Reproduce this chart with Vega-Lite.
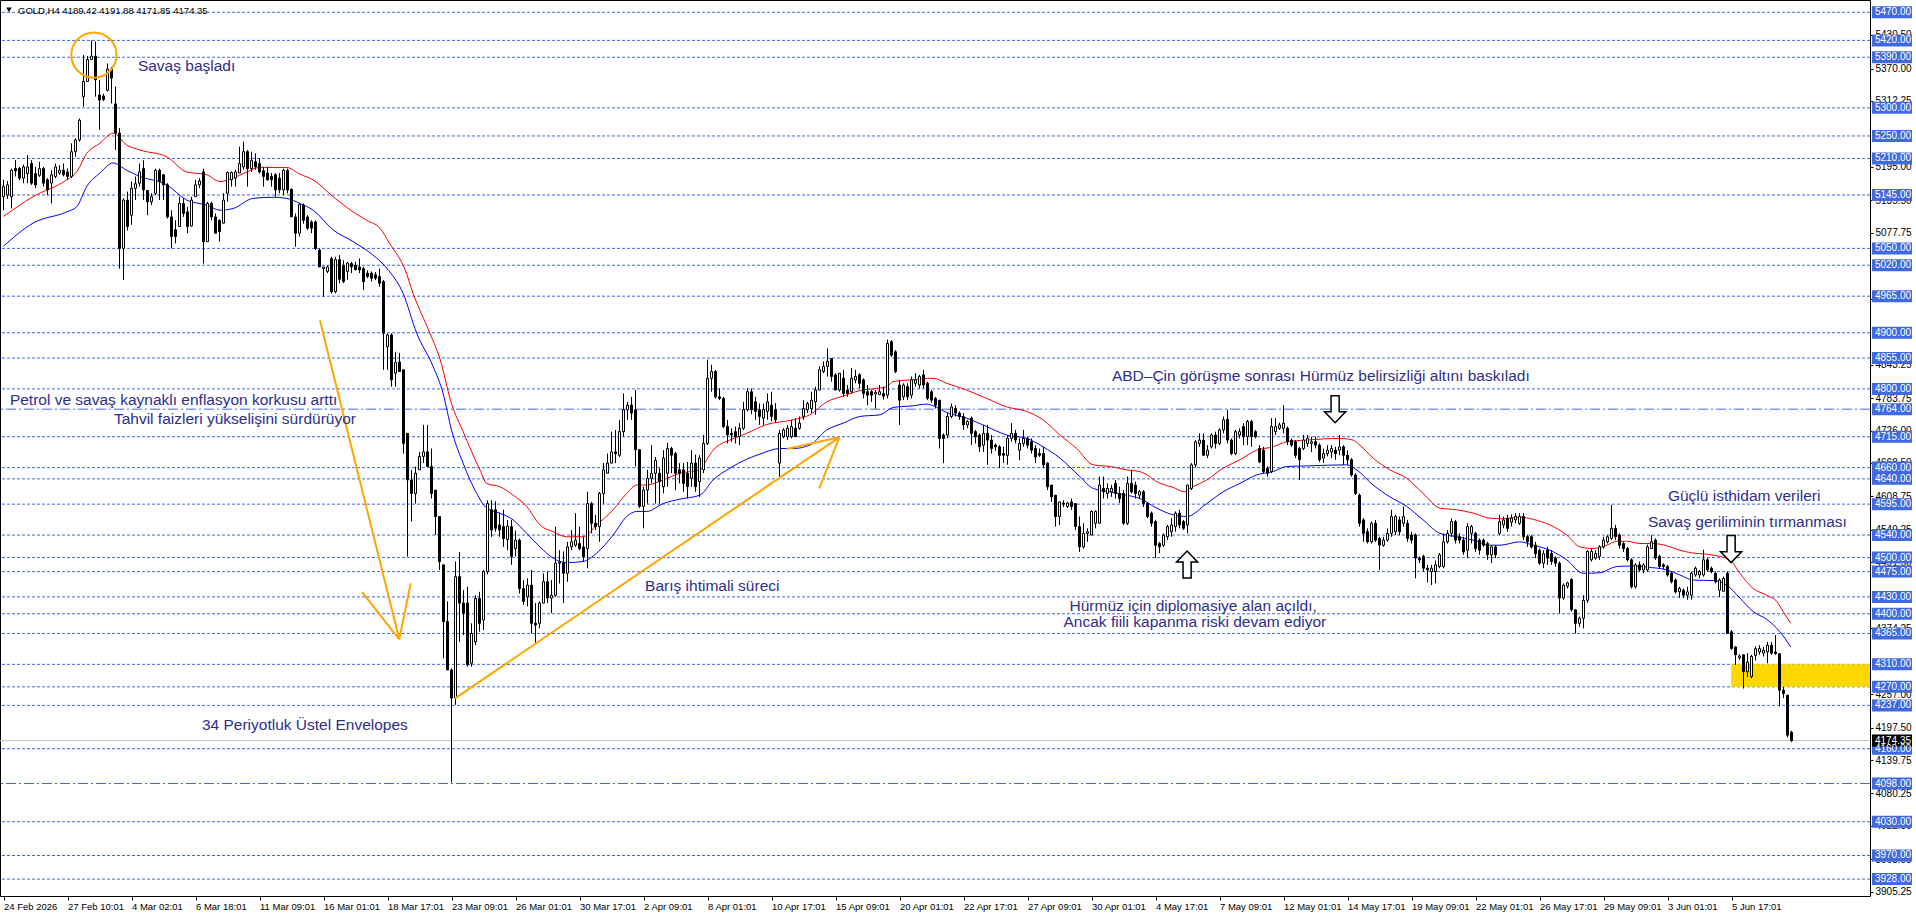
{
"$schema": "https://vega.github.io/schema/vega-lite/v6.json",
"width": 1870, "height": 896,
"autosize": {"type": "none"},
"padding": {"left": 0, "top": 0, "right": 46, "bottom": 21},
"background": "white",
"resolve": {"axis": {"x": "independent", "y": "independent"}},
"config": {
  "view": {"stroke": "black", "strokeWidth": 1},
  "scale": {"continuousPadding": 0},
  "text": {"font": "Liberation Sans"},
  "axis": {"labelFont": "Liberation Sans", "grid": false}
},
"layer": [
  {
    "data": {"values": [
      {"p":5470,"k":"d"},{"p":5420,"k":"d"},{"p":5390,"k":"d"},{"p":5300,"k":"d"},{"p":5250,"k":"d"},{"p":5210,"k":"d"},{"p":5145,"k":"d"},{"p":5050,"k":"d"},{"p":5020,"k":"d"},{"p":4965,"k":"d"},{"p":4900,"k":"d"},{"p":4855,"k":"d"},{"p":4800,"k":"d"},{"p":4764,"k":"dd"},{"p":4715,"k":"d"},{"p":4660,"k":"d"},{"p":4640,"k":"d"},{"p":4595,"k":"d"},{"p":4540,"k":"d"},{"p":4500,"k":"d"},{"p":4475,"k":"d"},{"p":4430,"k":"d"},{"p":4400,"k":"d"},{"p":4365,"k":"d"},{"p":4310,"k":"d"},{"p":4270,"k":"d"},{"p":4237,"k":"d"},{"p":4160,"k":"d"},{"p":4098,"k":"dd"},{"p":4030,"k":"d"},{"p":3970,"k":"d"},{"p":3928,"k":"d"}
    ]},
    "resolve": {"axis": {"x": "independent", "y": "independent"}},
    "layer": [
      {
        "transform": [{"filter": "datum.k == 'd'"}],
        "mark": {"type": "rule", "color": "#4169E1", "strokeWidth": 1, "strokeDash": [3, 2]},
        "encoding": {"y": {"field": "p", "type": "quantitative", "scale": {"domain": [3897.9, 5491.9], "nice": false, "zero": false, "padding": 0}, "axis": null}}
      },
      {
        "transform": [{"filter": "datum.k == 'dd'"}],
        "mark": {"type": "rule", "color": "#4169E1", "strokeWidth": 1, "strokeDash": [10, 3, 2, 3]},
        "encoding": {"y": {"field": "p", "type": "quantitative", "scale": {"domain": [3897.9, 5491.9], "nice": false, "zero": false, "padding": 0}, "axis": null}}
      }
    ]
  },
  {
    "data": {"values": [{"i1": 431.9, "i2": 466.625, "p1": 4310, "p2": 4270}]},
    "mark": {"type": "rect", "color": "#FFD700"},
    "encoding": {
      "x": {"field": "i1", "type": "quantitative", "scale": {"domain": [-0.875, 466.625], "nice": false, "zero": false, "padding": 0}, "axis": null},
      "x2": {"field": "i2"},
      "y": {"field": "p1", "type": "quantitative", "scale": {"domain": [3897.9, 5491.9], "nice": false, "zero": false, "padding": 0}, "axis": null},
      "y2": {"field": "p2"}
    }
  },
  {
    "data": {"values": [{"p": 4174.35}]},
    "mark": {"type": "rule", "color": "#C0C0C0", "strokeWidth": 1},
    "encoding": {"y": {"field": "p", "type": "quantitative", "scale": {"domain": [3897.9, 5491.9], "nice": false, "zero": false, "padding": 0}, "axis": null}}
  },
  {
    "data": {"values": "s,i,p\nu,0,5107\nu,7.4,5142\nu,15.8,5172\nu,18.3,5186\nu,20.8,5219\nu,24.1,5237\nu,27.4,5255\nu,30.8,5234\nu,34.1,5225\nu,40.8,5213\nu,45.8,5186\nu,50.8,5181\nu,54.1,5169\nu,57.4,5175\nu,60.8,5186\nu,64.1,5194\nu,70.8,5194\nu,74.1,5182\nu,77.4,5172\nu,82.4,5142\nu,87.4,5115\nu,90.8,5100\nu,94.1,5086\nu,96.6,5058\nu,100.4,5012\nu,102.4,4970\nu,106.6,4899\nu,109.1,4854\nu,112,4774\nu,114.9,4724\nu,119.1,4656\nu,120.8,4632\nu,124.1,4626\nu,127.4,4611\nu,130.8,4591\nu,134.1,4558\nu,137.4,4546\nu,140.8,4537\nu,144.9,4537\nu,148.3,4558\nu,152.4,4585\nu,155.8,4614\nu,158.3,4629\nu,160.8,4629\nu,164.9,4638\nu,169.1,4650\nu,174.1,4656\nu,175.8,4674\nu,177.4,4691\nu,181.6,4709\nu,185.8,4721\nu,190.5,4736\nu,197.4,4745\nu,201.6,4754\nu,205.8,4777\nu,209.8,4787\nu,214.1,4797\nu,218.3,4801\nu,220.8,4804\nu,222.4,4813\nu,226.6,4816\nu,232.4,4819\nu,235.8,4810\nu,240.8,4798\nu,245.8,4783\nu,250.8,4768\nu,255.8,4760\nu,259.9,4745\nu,264.1,4718\nu,268.3,4694\nu,272.4,4665\nu,276.6,4662\nu,280.8,4656\nu,284.5,4652\nu,289.1,4632\nu,292.4,4625\nu,295.3,4617\nu,296.6,4623\nu,300.8,4638\nu,304.9,4659\nu,309.1,4674\nu,313.3,4691\nu,317.4,4697\nu,320.8,4706\nu,325.8,4709\nu,334.1,4712\nu,337.4,4709\nu,339.1,4700\nu,342.4,4677\nu,346.6,4656\nu,350.8,4641\nu,354.9,4614\nu,359.1,4588\nu,363.3,4585\nu,367.4,4579\nu,371.6,4570\nu,375,4569\nu,379.1,4572\nu,382.4,4568\nu,386.6,4558\nu,390.8,4540\nu,394.1,4519\nu,397.4,4516\nu,400.8,4522\nu,403.3,4529\nu,405.8,4529\nu,409.1,4525\nu,412.4,4525\nu,415.8,4521\nu,419.1,4513\nu,422.4,4508\nu,425.8,4506\nu,429.1,4502\nu,431.6,4496\nu,434.1,4472\nu,437.4,4445\nu,440.8,4433\nu,443.3,4422\nu,444.9,4404\nu,446.8,4383\nl,0,5054\nl,7.4,5095\nl,15.8,5115\nl,18.3,5124\nl,20.8,5160\nl,24.1,5184\nl,27.4,5202\nl,30.8,5189\nl,34.1,5178\nl,40.8,5163\nl,45.8,5136\nl,50.8,5127\nl,54.1,5118\nl,57.4,5121\nl,62.4,5139\nl,67.4,5141\nl,70.8,5139\nl,74.1,5130\nl,77.4,5118\nl,82.4,5083\nl,87.4,5062\nl,92.4,5038\nl,96.4,5010\nl,99.9,4970\nl,103.3,4899\nl,107.4,4840\nl,109.9,4792\nl,112,4727\nl,114.9,4668\nl,118.3,4614\nl,120.8,4588\nl,124.1,4579\nl,127.4,4567\nl,130.8,4543\nl,134.1,4519\nl,137.4,4499\nl,140.8,4491\nl,144.9,4493\nl,148.3,4508\nl,152.4,4540\nl,155.8,4573\nl,158.3,4582\nl,160.8,4582\nl,164.9,4596\nl,169.1,4604\nl,174.1,4611\nl,177.4,4638\nl,181.6,4659\nl,185.8,4675\nl,189.1,4684\nl,194.1,4694\nl,197.4,4694\nl,201.6,4700\nl,205.8,4727\nl,209.9,4739\nl,214.1,4751\nl,219.1,4754\nl,222.4,4767\nl,227.4,4770\nl,230.8,4773\nl,232.4,4770\nl,235.8,4758\nl,240.8,4748\nl,245.8,4733\nl,250.8,4718\nl,255.8,4712\nl,259.9,4697\nl,264.1,4677\nl,269.1,4644\nl,272.4,4623\nl,276.6,4617\nl,280.8,4611\nl,284.1,4605\nl,288.3,4588\nl,292.4,4576\nl,295.8,4573\nl,300.8,4596\nl,304.9,4617\nl,309.1,4632\nl,313.3,4647\nl,317.4,4653\nl,320.8,4662\nl,325.8,4663\nl,335.8,4665\nl,338.3,4656\nl,342.4,4629\nl,346.6,4608\nl,350.8,4591\nl,354.9,4567\nl,359.1,4543\nl,363.3,4537\nl,367.4,4531\nl,371.6,4522\nl,374.1,4522\nl,379.1,4528\nl,382.4,4522\nl,386.6,4513\nl,390.8,4496\nl,394.9,4472\nl,399.1,4473\nl,403.3,4484\nl,407.4,4485\nl,410.8,4483\nl,415.8,4478\nl,419.1,4469\nl,422.4,4460\nl,427.4,4459\nl,430.8,4451\nl,434.1,4428\nl,437.4,4404\nl,440.8,4390\nl,444.1,4368\nl,446.8,4341", "format": {"type": "csv", "parse": {"i": "number", "p": "number"}}},
    "mark": {"type": "line", "strokeWidth": 1, "interpolate": "monotone"},
    "encoding": {
      "x": {"field": "i", "type": "quantitative", "scale": {"domain": [-0.875, 466.625], "nice": false, "zero": false, "padding": 0}, "axis": null},
      "y": {"field": "p", "type": "quantitative", "scale": {"domain": [3897.9, 5491.9], "nice": false, "zero": false, "padding": 0}, "axis": null},
      "color": {"field": "s", "type": "nominal", "scale": {"domain": ["u", "l"], "range": ["#FF0000", "#0000FF"]}, "legend": null}
    }
  },
  {
    "data": {"values": "i,o,h,l,c\n0,5142,5172,5118,5160\n1,5145,5170,5138,5163\n2,5142,5192,5121,5189\n3,5192,5207,5178,5188\n4,5192,5195,5171,5175\n5,5175,5199,5166,5195\n6,5183,5216,5166,5195\n7,5201,5207,5163,5166\n8,5183,5195,5157,5163\n9,5180,5204,5177,5192\n10,5192,5195,5160,5166\n11,5172,5175,5145,5154\n12,5166,5189,5130,5181\n13,5178,5201,5175,5195\n14,5184,5198,5181,5189\n15,5189,5201,5178,5181\n16,5186,5192,5172,5178\n17,5178,5237,5175,5222\n18,5222,5246,5213,5243\n19,5243,5281,5240,5278\n20,5320,5394,5302,5347\n21,5347,5392,5346,5386\n22,5386,5420,5385,5392\n23,5392,5418,5320,5350\n24,5323,5350,5261,5314\n25,5321,5325,5312,5315\n26,5331,5379,5329,5369\n27,5369,5373,5308,5353\n28,5307,5338,5225,5255\n29,5255,5264,5014,5050\n30,5050,5139,4994,5136\n31,5136,5151,5082,5089\n32,5109,5169,5092,5157\n33,5157,5178,5136,5165\n34,5166,5201,5160,5186\n35,5192,5207,5136,5154\n36,5153,5154,5109,5133\n37,5133,5148,5127,5142\n38,5148,5192,5145,5189\n39,5189,5192,5136,5169\n40,5181,5181,5136,5163\n41,5163,5166,5103,5106\n42,5106,5118,5050,5071\n43,5083,5100,5059,5071\n44,5089,5142,5089,5130\n45,5130,5139,5106,5112\n46,5115,5124,5077,5089\n47,5090,5142,5089,5136\n48,5142,5172,5142,5163\n49,5163,5175,5157,5170\n50,5186,5192,5023,5062\n51,5062,5133,5062,5130\n52,5130,5133,5100,5106\n53,5106,5112,5077,5077\n54,5100,5101,5062,5080\n55,5095,5148,5094,5136\n56,5148,5187,5133,5185\n57,5172,5187,5160,5185\n58,5175,5190,5160,5186\n59,5184,5231,5184,5201\n60,5195,5240,5190,5222\n61,5222,5225,5160,5192\n62,5192,5222,5186,5207\n63,5204,5219,5190,5195\n64,5201,5210,5183,5186\n65,5188,5195,5160,5178\n66,5184,5195,5171,5172\n67,5178,5184,5160,5172\n68,5181,5184,5142,5154\n69,5175,5184,5148,5154\n70,5154,5192,5145,5189\n71,5189,5192,5148,5154\n72,5155,5157,5106,5106\n73,5106,5112,5053,5077\n74,5077,5130,5071,5128\n75,5127,5130,5094,5100\n76,5106,5109,5083,5086\n77,5097,5100,5077,5086\n78,5097,5100,5047,5050\n79,5047,5050,5017,5017\n80,5014,5017,4964,5017\n81,5009,5020,5006,5017\n82,5032,5035,4970,4973\n83,4973,5035,4970,5030\n84,5030,5038,4988,4995\n85,5020,5029,4988,4991\n86,5009,5026,4994,5024\n87,5023,5026,5006,5017\n88,5020,5026,5011,5012\n89,5017,5032,5006,5012\n90,5014,5017,4976,4991\n91,5006,5011,4997,5000\n92,5006,5009,4991,4997\n93,5003,5008,4994,4997\n94,5000,5014,4982,4988\n95,4991,4994,4834,4899\n96,4875,4899,4834,4896\n97,4896,4899,4804,4816\n98,4828,4866,4804,4847\n99,4848,4864,4830,4831\n100,4834,4834,4685,4703\n101,4721,4721,4502,4638\n102,4638,4656,4564,4614\n103,4614,4662,4596,4650\n104,4656,4688,4656,4680\n105,4680,4736,4668,4688\n106,4688,4736,4662,4662\n107,4662,4694,4605,4614\n108,4620,4620,4540,4573\n109,4573,4573,4478,4493\n110,4487,4487,4321,4386\n111,4386,4422,4300,4300\n112,4300,4303,4100,4250\n113,4250,4493,4238,4466\n114,4466,4510,4350,4419\n115,4419,4442,4362,4401\n116,4419,4448,4306,4309\n117,4312,4383,4306,4365\n118,4350,4433,4344,4427\n119,4427,4439,4368,4383\n120,4389,4478,4371,4475\n121,4475,4602,4470,4596\n122,4585,4602,4537,4549\n123,4585,4600,4546,4552\n124,4558,4579,4537,4549\n125,4555,4585,4519,4534\n126,4532,4567,4513,4556\n127,4555,4567,4487,4502\n128,4516,4548,4502,4531\n129,4531,4534,4436,4445\n130,4445,4460,4416,4422\n131,4430,4463,4413,4451\n132,4451,4478,4365,4383\n133,4383,4419,4347,4380\n134,4383,4422,4374,4419\n135,4419,4472,4419,4457\n136,4457,4475,4419,4428\n137,4428,4460,4401,4433\n138,4433,4555,4430,4490\n139,4490,4513,4454,4492\n140,4490,4511,4419,4472\n141,4472,4528,4457,4519\n142,4519,4549,4513,4528\n143,4522,4579,4519,4531\n144,4525,4555,4513,4516\n145,4519,4537,4493,4502\n146,4516,4617,4481,4596\n147,4596,4599,4543,4561\n148,4561,4576,4549,4555\n149,4555,4617,4528,4614\n150,4614,4668,4596,4656\n151,4650,4685,4650,4668\n152,4668,4724,4668,4688\n153,4688,4727,4668,4685\n154,4682,4745,4679,4724\n155,4724,4792,4715,4763\n156,4763,4777,4745,4771\n157,4771,4786,4745,4757\n158,4763,4798,4662,4692\n159,4692,4692,4588,4591\n160,4591,4626,4552,4620\n161,4620,4656,4596,4641\n162,4641,4700,4632,4650\n163,4650,4679,4596,4673\n164,4650,4659,4596,4635\n165,4626,4691,4614,4677\n166,4650,4704,4626,4694\n167,4694,4697,4650,4682\n168,4685,4688,4620,4650\n169,4656,4668,4632,4650\n170,4656,4668,4617,4632\n171,4650,4670,4605,4626\n172,4641,4691,4626,4668\n173,4668,4683,4617,4626\n174,4635,4682,4608,4677\n175,4656,4718,4650,4703\n176,4703,4852,4700,4819\n177,4819,4843,4795,4831\n178,4831,4834,4783,4786\n179,4786,4801,4780,4783\n180,4783,4786,4730,4733\n181,4733,4745,4703,4718\n182,4721,4730,4706,4718\n183,4724,4733,4703,4715\n184,4715,4739,4700,4730\n185,4730,4777,4727,4763\n186,4763,4801,4760,4795\n187,4795,4801,4755,4763\n188,4777,4786,4745,4760\n189,4763,4774,4736,4751\n190,4748,4774,4736,4763\n191,4760,4792,4745,4777\n192,4771,4795,4742,4751\n193,4763,4775,4740,4745\n194,4668,4727,4644,4721\n195,4715,4730,4712,4727\n196,4715,4736,4709,4730\n197,4715,4745,4712,4733\n198,4730,4748,4715,4715\n199,4730,4751,4727,4739\n200,4751,4780,4745,4765\n201,4763,4777,4757,4774\n202,4765,4795,4757,4780\n203,4777,4804,4754,4798\n204,4798,4840,4798,4834\n205,4831,4849,4828,4840\n206,4840,4872,4822,4849\n207,4854,4854,4813,4822\n208,4825,4828,4798,4798\n209,4798,4828,4795,4828\n210,4819,4834,4786,4792\n211,4798,4807,4786,4792\n212,4795,4837,4792,4819\n213,4816,4834,4810,4822\n214,4825,4828,4801,4810\n215,4816,4819,4783,4792\n216,4795,4807,4771,4789\n217,4795,4798,4777,4789\n218,4791,4798,4765,4794\n219,4790,4807,4789,4795\n220,4792,4804,4781,4787\n221,4789,4888,4783,4881\n222,4884,4887,4857,4860\n223,4866,4869,4828,4831\n224,4807,4816,4736,4780\n225,4786,4810,4780,4807\n226,4804,4810,4780,4786\n227,4789,4822,4783,4816\n228,4810,4828,4804,4816\n229,4807,4825,4801,4822\n230,4825,4834,4801,4807\n231,4810,4813,4780,4783\n232,4795,4798,4775,4780\n233,4783,4786,4765,4771\n234,4780,4780,4694,4712\n235,4718,4721,4668,4712\n236,4718,4757,4712,4751\n237,4751,4774,4748,4768\n238,4765,4771,4751,4757\n239,4757,4760,4745,4751\n240,4751,4757,4727,4736\n241,4736,4745,4730,4742\n242,4748,4751,4700,4721\n243,4724,4727,4703,4715\n244,4718,4721,4688,4697\n245,4700,4736,4688,4721\n246,4721,4736,4665,4709\n247,4709,4718,4685,4694\n248,4700,4703,4690,4697\n249,4697,4700,4659,4682\n250,4685,4697,4668,4682\n251,4682,4718,4665,4712\n252,4712,4739,4706,4721\n253,4721,4727,4703,4709\n254,4691,4712,4673,4703\n255,4703,4727,4697,4712\n256,4712,4715,4694,4700\n257,4706,4712,4685,4691\n258,4694,4700,4668,4679\n259,4685,4694,4679,4682\n260,4685,4697,4659,4665\n261,4668,4670,4620,4626\n262,4629,4629,4599,4608\n263,4611,4611,4555,4573\n264,4573,4599,4558,4599\n265,4597,4602,4590,4595\n266,4591,4599,4588,4597\n267,4599,4605,4585,4591\n268,4596,4596,4549,4555\n269,4555,4573,4510,4519\n270,4519,4561,4516,4543\n271,4543,4552,4528,4546\n272,4540,4584,4540,4582\n273,4561,4584,4552,4582\n274,4561,4644,4560,4629\n275,4623,4644,4605,4617\n276,4614,4632,4605,4623\n277,4617,4629,4608,4623\n278,4632,4638,4605,4614\n279,4614,4626,4597,4605\n280,4614,4620,4558,4561\n281,4561,4644,4558,4632\n282,4632,4656,4614,4617\n283,4629,4635,4605,4614\n284,4611,4620,4605,4617\n285,4617,4620,4590,4596\n286,4596,4599,4570,4573\n287,4579,4582,4555,4561\n288,4564,4567,4499,4522\n289,4525,4528,4508,4519\n290,4522,4543,4519,4540\n291,4537,4558,4531,4555\n292,4546,4570,4537,4558\n293,4555,4582,4546,4579\n294,4579,4585,4552,4558\n295,4564,4567,4549,4552\n296,4558,4629,4543,4629\n297,4623,4668,4620,4665\n298,4665,4709,4660,4706\n299,4703,4721,4697,4709\n300,4709,4721,4682,4682\n301,4682,4700,4677,4691\n302,4697,4721,4694,4718\n303,4718,4724,4694,4703\n304,4703,4730,4700,4727\n305,4727,4751,4721,4745\n306,4746,4763,4703,4709\n307,4709,4712,4682,4685\n308,4685,4727,4682,4724\n309,4718,4730,4712,4724\n310,4733,4739,4700,4715\n311,4715,4745,4700,4742\n312,4742,4745,4697,4715\n313,4724,4727,4712,4715\n314,4694,4700,4668,4670\n315,4691,4697,4650,4653\n316,4659,4662,4644,4650\n317,4653,4748,4650,4733\n318,4724,4748,4718,4733\n319,4730,4740,4727,4736\n320,4730,4771,4721,4739\n321,4730,4733,4700,4706\n322,4709,4712,4697,4700\n323,4706,4709,4677,4682\n324,4694,4697,4638,4674\n325,4694,4718,4691,4709\n326,4703,4718,4697,4712\n327,4703,4715,4688,4706\n328,4706,4715,4694,4700\n329,4700,4703,4670,4674\n330,4677,4694,4668,4685\n331,4685,4700,4680,4691\n332,4688,4700,4677,4694\n333,4691,4697,4674,4685\n334,4691,4718,4682,4697\n335,4697,4700,4665,4682\n336,4682,4691,4665,4674\n337,4674,4677,4644,4647\n338,4647,4650,4611,4614\n339,4611,4614,4555,4561\n340,4567,4570,4528,4543\n341,4546,4552,4525,4528\n342,4528,4564,4525,4561\n343,4561,4567,4528,4531\n344,4534,4537,4478,4522\n345,4522,4537,4519,4531\n346,4531,4552,4528,4543\n347,4543,4585,4537,4573\n348,4546,4576,4540,4573\n349,4567,4573,4540,4546\n350,4561,4591,4555,4573\n351,4561,4567,4528,4534\n352,4540,4546,4525,4531\n353,4540,4543,4463,4499\n354,4499,4502,4490,4496\n355,4502,4505,4475,4481\n356,4481,4487,4456,4478\n357,4475,4487,4451,4481\n358,4475,4495,4454,4487\n359,4484,4508,4481,4505\n360,4484,4543,4481,4528\n361,4528,4549,4525,4543\n362,4543,4570,4537,4564\n363,4564,4567,4525,4531\n364,4537,4543,4525,4531\n365,4531,4537,4505,4510\n366,4513,4561,4499,4555\n367,4543,4558,4525,4555\n368,4543,4546,4510,4516\n369,4531,4534,4505,4513\n370,4531,4534,4519,4522\n371,4525,4528,4496,4505\n372,4505,4522,4490,4519\n373,4519,4522,4499,4505\n374,4543,4576,4540,4564\n375,4558,4573,4552,4567\n376,4570,4576,4546,4552\n377,4563,4577,4555,4570\n378,4567,4579,4561,4573\n379,4561,4579,4558,4573\n380,4573,4579,4531,4537\n381,4537,4540,4519,4528\n382,4537,4540,4516,4519\n383,4522,4528,4499,4507\n384,4513,4516,4487,4490\n385,4490,4513,4481,4507\n386,4513,4519,4487,4499\n387,4507,4513,4487,4493\n388,4499,4502,4484,4490\n389,4490,4493,4401,4428\n390,4428,4454,4425,4451\n391,4449,4457,4445,4455\n392,4461,4463,4404,4407\n393,4407,4407,4365,4383\n394,4383,4395,4377,4392\n395,4392,4433,4374,4424\n396,4424,4513,4419,4511\n397,4496,4516,4493,4511\n398,4499,4513,4496,4507\n399,4502,4522,4496,4519\n400,4519,4537,4516,4531\n401,4528,4540,4525,4537\n402,4534,4594,4531,4552\n403,4552,4558,4531,4537\n404,4540,4543,4516,4522\n405,4525,4528,4510,4516\n406,4516,4519,4493,4496\n407,4496,4499,4445,4448\n408,4448,4490,4445,4487\n409,4487,4493,4475,4478\n410,4478,4490,4472,4487\n411,4478,4523,4475,4519\n412,4516,4540,4516,4528\n413,4531,4534,4496,4499\n414,4502,4505,4481,4484\n415,4487,4490,4480,4484\n416,4484,4487,4466,4469\n417,4472,4475,4454,4457\n418,4460,4463,4436,4439\n419,4439,4448,4428,4445\n420,4442,4445,4428,4433\n421,4433,4448,4425,4439\n422,4433,4475,4425,4472\n423,4469,4484,4466,4481\n424,4469,4478,4463,4475\n425,4469,4514,4466,4496\n426,4496,4499,4475,4478\n427,4481,4484,4472,4475\n428,4472,4475,4454,4457\n429,4442,4463,4430,4460\n430,4440,4466,4440,4463\n431,4472,4475,4365,4365\n432,4368,4371,4336,4338\n433,4341,4342,4309,4327\n434,4322,4328,4318,4325\n435,4327,4327,4267,4297\n436,4297,4330,4288,4314\n437,4288,4327,4285,4324\n438,4326,4342,4317,4338\n439,4332,4344,4327,4338\n440,4330,4341,4324,4335\n441,4332,4350,4312,4344\n442,4344,4350,4327,4330\n443,4332,4362,4327,4329\n444,4329,4329,4235,4264\n445,4264,4270,4250,4258\n446,4255,4256,4180,4184\n447,4189.42,4191.88,4171.85,4174.35", "format": {"type": "csv", "parse": {"i": "number", "o": "number", "h": "number", "l": "number", "c": "number"}}},
    "resolve": {"axis": {"x": "independent", "y": "independent"}},
    "layer": [
      {
        "mark": {"type": "rule", "color": "black", "strokeWidth": 1},
        "encoding": {
          "x": {"field": "i", "type": "quantitative", "scale": {"domain": [-0.875, 466.625], "nice": false, "zero": false, "padding": 0},
            "axis": {"orient": "bottom", "values": [0,16,32,48,64,80,96,112,128,144,160,176,192,208,224,240,256,272,288,304,320,336,352,368,384,400,416,432],
              "labelExpr": "['24 Feb 2026','27 Feb 10:01','4 Mar 02:01','6 Mar 18:01','11 Mar 09:01','16 Mar 01:01','18 Mar 17:01','23 Mar 09:01','26 Mar 01:01','30 Mar 17:01','2 Apr 09:01','8 Apr 01:01','10 Apr 17:01','15 Apr 09:01','20 Apr 01:01','22 Apr 17:01','27 Apr 09:01','30 Apr 01:01','4 May 17:01','7 May 09:01','12 May 01:01','14 May 17:01','19 May 09:01','22 May 01:01','26 May 17:01','29 May 09:01','3 Jun 01:01','5 Jun 17:01'][round(datum.value/16)]",
              "title": null, "domain": false, "ticks": true, "tickColor": "black", "tickSize": 4, "labels": true, "labelAlign": "left", "labelBaseline": "top", "labelPadding": 1, "labelFontSize": 9.5, "labelColor": "black", "labelOverlap": false, "labelBound": false, "labelFlush": false, "grid": false, "zindex": 1}},
          "y": {"field": "l", "type": "quantitative", "scale": {"domain": [3897.9, 5491.9], "nice": false, "zero": false, "padding": 0},
            "axis": {"orient": "right", "values": [5430.5,5370,5312.25,5195,5135.5,5077.75,4960.5,4843.25,4783.75,4726,4668.5,4608.75,4549.25,4491.5,4374.25,4257,4197.5,4139.75,4080.25,4022.5,3963,3905.25],
              "format": ".2f", "title": null, "domain": false, "ticks": true, "tickColor": "black", "tickSize": 3, "labels": true, "labelPadding": 2, "labelFontSize": 10, "labelColor": "black", "labelOverlap": false, "labelBound": false, "labelFlush": false, "labelAlign": "left", "labelBaseline": "middle", "grid": false, "zindex": 0}},
          "y2": {"field": "h"}
        }
      },
      {
        "mark": {"type": "bar", "size": 2, "stroke": "black", "strokeWidth": 1},
        "encoding": {
          "x": {"field": "i", "type": "quantitative", "scale": {"domain": [-0.875, 466.625], "nice": false, "zero": false, "padding": 0}, "axis": null},
          "y": {"field": "o", "type": "quantitative", "scale": {"domain": [3897.9, 5491.9], "nice": false, "zero": false, "padding": 0}, "axis": null},
          "y2": {"field": "c"},
          "fill": {"condition": {"test": "datum.c >= datum.o", "value": "white"}, "value": "black"}
        }
      }
    ]
  },
  {
    "data": {"values": [
      {"i1": 79.1, "p1": 4922, "i2": 98.95, "p2": 4354.6},
      {"i1": 101.8, "p1": 4454, "i2": 98.95, "p2": 4354.6},
      {"i1": 89.6, "p1": 4439, "i2": 98.95, "p2": 4354.6},
      {"i1": 112.9, "p1": 4249.6, "i2": 208.95, "p2": 4713.9},
      {"i1": 195.8, "p1": 4693, "i2": 208.95, "p2": 4713.9},
      {"i1": 203.95, "p1": 4623, "i2": 208.95, "p2": 4713.9}
    ]},
    "mark": {"type": "rule", "color": "#FFA500", "strokeWidth": 2},
    "encoding": {
      "x": {"field": "i1", "type": "quantitative", "scale": {"domain": [-0.875, 466.625], "nice": false, "zero": false, "padding": 0}, "axis": null},
      "x2": {"field": "i2"},
      "y": {"field": "p1", "type": "quantitative", "scale": {"domain": [3897.9, 5491.9], "nice": false, "zero": false, "padding": 0}, "axis": null},
      "y2": {"field": "p2"}
    }
  },
  {
    "data": {"values": [{"i": 22.6, "p": 5394}]},
    "mark": {"type": "point", "shape": "circle", "size": 2043, "stroke": "#FFA500", "strokeWidth": 2, "filled": false, "opacity": 1},
    "encoding": {
      "x": {"field": "i", "type": "quantitative", "scale": {"domain": [-0.875, 466.625], "nice": false, "zero": false, "padding": 0}, "axis": null},
      "y": {"field": "p", "type": "quantitative", "scale": {"domain": [3897.9, 5491.9], "nice": false, "zero": false, "padding": 0}, "axis": null}
    }
  },
  {
    "data": {"values": [{"i": 332.9, "p": 4764}, {"i": 431.9, "p": 4515}]},
    "mark": {"type": "point", "shape": "M-0.3,-1L0.3,-1L0.3,0.2L0.78,0.2L0,1L-0.78,0.2L-0.3,0.2Z", "size": 729, "fill": "white", "stroke": "black", "strokeWidth": 1.5, "filled": true, "opacity": 1},
    "encoding": {
      "x": {"field": "i", "type": "quantitative", "scale": {"domain": [-0.875, 466.625], "nice": false, "zero": false, "padding": 0}, "axis": null},
      "y": {"field": "p", "type": "quantitative", "scale": {"domain": [3897.9, 5491.9], "nice": false, "zero": false, "padding": 0}, "axis": null}
    }
  },
  {
    "data": {"values": [{"i": 295.9, "p": 4487.5}]},
    "mark": {"type": "point", "shape": "M-0.3,1L0.3,1L0.3,-0.2L0.78,-0.2L0,-1L-0.78,-0.2L-0.3,-0.2Z", "size": 729, "fill": "white", "stroke": "black", "strokeWidth": 1.5, "filled": true, "opacity": 1},
    "encoding": {
      "x": {"field": "i", "type": "quantitative", "scale": {"domain": [-0.875, 466.625], "nice": false, "zero": false, "padding": 0}, "axis": null},
      "y": {"field": "p", "type": "quantitative", "scale": {"domain": [3897.9, 5491.9], "nice": false, "zero": false, "padding": 0}, "axis": null}
    }
  },
  {
    "data": {"values": [
      {"i": 33.6, "p": 5374, "t": "Savaş başladı"},
      {"i": 1.6, "p": 4780, "t": "Petrol ve savaş kaynaklı enflasyon korkusu arttı"},
      {"i": 27.6, "p": 4747, "t": "Tahvil faizleri yükselişini sürdürüyor"},
      {"i": 277.1, "p": 4823, "t": "ABD–Çin görüşme sonrası Hürmüz belirsizliği altını baskıladı"},
      {"i": 160.4, "p": 4449, "t": "Barış ihtimali süreci"},
      {"i": 266.5, "p": 4414, "t": "Hürmüz için diplomasiye alan açıldı,"},
      {"i": 265, "p": 4385, "t": "Ancak fiili kapanma riski devam ediyor"},
      {"i": 416.1, "p": 4609, "t": "Güçlü isthidam verileri"},
      {"i": 411.1, "p": 4564, "t": "Savaş geriliminin tırmanması"},
      {"i": 49.6, "p": 4202, "t": "34 Periyotluk Üstel Envelopes"}
    ]},
    "mark": {"type": "text", "align": "left", "baseline": "middle", "font": "Liberation Sans", "fontSize": 15.5, "color": "#2E2E8B"},
    "encoding": {
      "x": {"field": "i", "type": "quantitative", "scale": {"domain": [-0.875, 466.625], "nice": false, "zero": false, "padding": 0}, "axis": null},
      "y": {"field": "p", "type": "quantitative", "scale": {"domain": [3897.9, 5491.9], "nice": false, "zero": false, "padding": 0}, "axis": null},
      "text": {"field": "t"}
    }
  },
  {
    "data": {"values": [{"i": 3.625, "p": 5472.9, "t": "GOLD,H4  4189.42 4191.88 4171.85 4174.35"}]},
    "mark": {"type": "text", "align": "left", "baseline": "middle", "font": "Liberation Sans", "fontSize": 9.5, "color": "black"},
    "encoding": {
      "x": {"field": "i", "type": "quantitative", "scale": {"domain": [-0.875, 466.625], "nice": false, "zero": false, "padding": 0}, "axis": null},
      "y": {"field": "p", "type": "quantitative", "scale": {"domain": [3897.9, 5491.9], "nice": false, "zero": false, "padding": 0}, "axis": null},
      "text": {"field": "t"}
    }
  },
  {
    "data": {"values": [{"i": 1.375, "p": 5474.5}]},
    "mark": {"type": "point", "shape": "triangle-down", "size": 30, "filled": true, "color": "black", "opacity": 1},
    "encoding": {
      "x": {"field": "i", "type": "quantitative", "scale": {"domain": [-0.875, 466.625], "nice": false, "zero": false, "padding": 0}, "axis": null},
      "y": {"field": "p", "type": "quantitative", "scale": {"domain": [3897.9, 5491.9], "nice": false, "zero": false, "padding": 0}, "axis": null}
    }
  },
  {
    "data": {"values": [
      {"p":5470,"b":"b"},{"p":5420,"b":"b"},{"p":5390,"b":"b"},{"p":5300,"b":"b"},{"p":5250,"b":"b"},{"p":5210,"b":"b"},{"p":5145,"b":"b"},{"p":5050,"b":"b"},{"p":5020,"b":"b"},{"p":4965,"b":"b"},{"p":4900,"b":"b"},{"p":4855,"b":"b"},{"p":4800,"b":"b"},{"p":4764,"b":"b"},{"p":4715,"b":"b"},{"p":4660,"b":"b"},{"p":4640,"b":"b"},{"p":4595,"b":"b"},{"p":4540,"b":"b"},{"p":4500,"b":"b"},{"p":4475,"b":"b"},{"p":4430,"b":"b"},{"p":4400,"b":"b"},{"p":4365,"b":"b"},{"p":4310,"b":"b"},{"p":4270,"b":"b"},{"p":4237,"b":"b"},{"p":4160,"b":"b"},{"p":4098,"b":"b"},{"p":4030,"b":"b"},{"p":3970,"b":"b"},{"p":3928,"b":"b"},{"p":4174.35,"b":"k"}
    ]},
    "resolve": {"axis": {"x": "independent", "y": "independent"}},
    "layer": [
      {
        "mark": {"type": "point", "shape": "M-1,-0.3L1,-0.3L1,0.3L-1,0.3Z", "size": 1600, "filled": true, "opacity": 1, "strokeWidth": 0},
        "encoding": {
          "x": {"datum": 472.125, "type": "quantitative", "scale": {"domain": [-0.875, 466.625], "nice": false, "zero": false, "padding": 0}, "axis": null},
          "y": {"field": "p", "type": "quantitative", "scale": {"domain": [3897.9, 5491.9], "nice": false, "zero": false, "padding": 0}, "axis": null},
          "fill": {"field": "b", "type": "nominal", "scale": {"domain": ["b", "k"], "range": ["#4169E1", "#000000"]}, "legend": null}
        }
      },
      {
        "mark": {"type": "text", "align": "center", "baseline": "middle", "font": "Liberation Sans", "fontSize": 10, "color": "white"},
        "encoding": {
          "x": {"datum": 472.375, "type": "quantitative", "scale": {"domain": [-0.875, 466.625], "nice": false, "zero": false, "padding": 0}, "axis": null},
          "y": {"field": "p", "type": "quantitative", "scale": {"domain": [3897.9, 5491.9], "nice": false, "zero": false, "padding": 0}, "axis": null},
          "text": {"field": "p", "type": "quantitative", "format": ".2f"}
        }
      }
    ]
  }
]
}
